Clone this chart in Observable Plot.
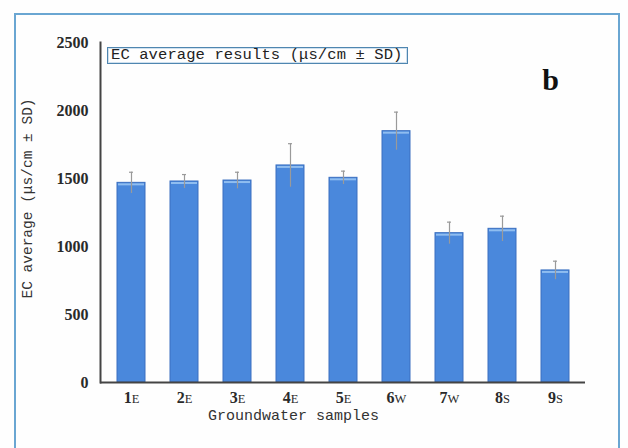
<!DOCTYPE html>
<html>
<head>
<meta charset="utf-8">
<script src="https://cdn.jsdelivr.net/npm/d3@7"></script>
<script src="https://cdn.jsdelivr.net/npm/@observablehq/plot@0.6"></script>
<style>
  html, body { margin: 0; padding: 0; background: #fff; }
  #wrap { position: relative; width: 628px; height: 448px; overflow: hidden; background: #fefefe; }
  #border { position: absolute; left: 14px; top: 13px; width: 606px; height: 470px; border: 2px solid #6aa6d2; box-sizing: border-box; }
  #legend { position: absolute; left: 107px; top: 47px; width: 301px; height: 17px; border: 1.5px solid #4f86b0; box-sizing: border-box;
            font-family: "Liberation Mono", monospace; font-size: 15.5px; line-height: 14px; letter-spacing: 0.1px; color: #222; padding-left: 3px; white-space: nowrap;
            box-shadow: inset 0 0 0 1px #cfe0ee; }
  #wrap svg { position: absolute; left: 0; top: 0; }
</style>
</head>
<body>
<div id="wrap">
  <div id="border"></div>
</div>
<script>
const samples = ["1E", "2E", "3E", "4E", "5E", "6W", "7W", "8S", "9S"];
const ecAverage = [1468, 1478, 1485, 1596, 1505, 1848, 1098, 1130, 824];
const ecSD = [78, 51, 61, 160, 49, 140, 81, 93, 68];
const yTicks = [0, 500, 1000, 1500, 2000, 2500];
const legendText = "EC average results (μs/cm ± SD)";
const yTitle = "EC average (μs/cm ± SD)";
const xTitle = "Groundwater samples";
const panelLabel = "b";

const data = samples.map((s, i) => ({sample: s, ec: ecAverage[i], sd: ecSD[i]}));

const chart = Plot.plot({
  width: 628,
  height: 448,
  marginLeft: 100,
  marginRight: 43,
  marginTop: 42,
  marginBottom: 66,
  style: {background: "transparent", color: "#333"},
  x: {domain: samples, paddingInner: 0.48, paddingOuter: 0.24, label: null},
  y: {domain: [0, 2500], label: null},
  marks: [
    Plot.barY(data, {x: "sample", y: "ec", fill: "#4a88dc", stroke: "#3a6fc0", strokeWidth: 1}),
    Plot.tickY(data, {x: "sample", y: "ec", stroke: "#8fbdf0", strokeWidth: 2, dy: 1.5, insetLeft: 1, insetRight: 1}),
    Plot.ruleX(data, {x: "sample", y1: d => d.ec - d.sd, y2: d => d.ec + d.sd, stroke: "#9a9a9a", strokeWidth: 1.2}),
    Plot.tickY(data, {x: "sample", y: d => d.ec + d.sd, stroke: "#9a9a9a", strokeWidth: 1.2, insetLeft: 12, insetRight: 12}),
    Plot.axisY({ticks: yTicks, tickSize: 0, tickPadding: 12, tickFormat: d => String(d), label: null,
      fontFamily: "Liberation Serif", fontWeight: "bold", fontSize: 16, fill: "#2a2a2a"}),
    Plot.axisX({tickSize: 0, tickPadding: 9, label: null,
      fontFamily: "Liberation Serif", fontWeight: "bold", fontSize: 16, fill: "#2a2a2a"}),
    Plot.ruleY([0], {stroke: "#444", strokeWidth: 2}),
    Plot.frame({anchor: "left", stroke: "#444", strokeWidth: 2}),
    Plot.text([xTitle], {frameAnchor: "bottom-left", dx: 193, dy: 33, textAnchor: "middle", lineAnchor: "middle",
      fontFamily: "Liberation Mono", fontSize: 15, fill: "#333"}),
    Plot.text([yTitle], {frameAnchor: "left", dx: -73, dy: -14, rotate: -90, textAnchor: "middle", lineAnchor: "middle",
      fontFamily: "Liberation Mono", fontSize: 14.5, fill: "#333"}),
    Plot.text([panelLabel], {frameAnchor: "top-right", dx: -35, dy: 38, textAnchor: "middle", lineAnchor: "middle",
      fontFamily: "Liberation Serif", fontWeight: "bold", fontSize: 30, fill: "#111"})
  ]
});

// small-cap style for the letter part of the sample labels
d3.select(chart).selectAll("g[aria-label='x-axis tick label'] text").each(function() {
  const t = this.textContent;
  const m = t.match(/^(\d+)(\D+)$/);
  if (m) {
    const sel = d3.select(this);
    sel.text(m[1]);
    sel.append("tspan").attr("font-size", 12.5).attr("font-weight", "normal").text(m[2]);
  }
});

const wrap = document.getElementById("wrap");
wrap.insertBefore(chart, wrap.firstChild);
const leg = document.createElement("div");
leg.id = "legend";
leg.textContent = legendText;
wrap.appendChild(leg);
</script>
</body>
</html>
